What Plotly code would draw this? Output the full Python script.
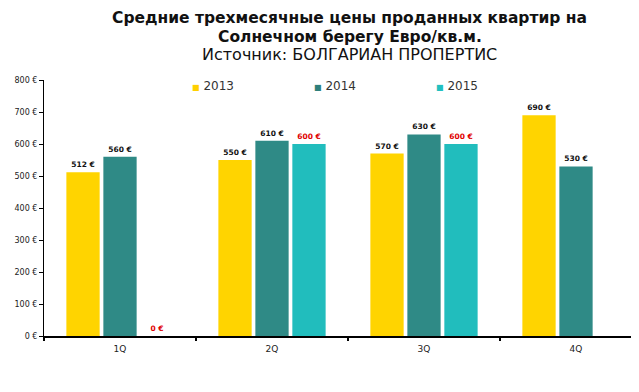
import plotly.graph_objects as go

quarters = ["1Q", "2Q", "3Q", "4Q"]
years = ["2013", "2014", "2015"]
v2013 = [512, 550, 570, 690]
v2014 = [560, 610, 630, 530]
v2015 = [0, 600, 600, None]
y_ticks = [0, 100, 200, 300, 400, 500, 600, 700, 800]
y_tick_labels = [f"{t} €" for t in y_ticks]

series = [v2013, v2014, v2015]
colors = ["#FFD400", "#2F8A86", "#21BDBD"]
legend_colors = ["#FFD000", "#2E7F7B", "#22C0C0"]
label_colors = ["#111111", "#111111", "#E00000"]

fig = go.Figure()
for name, vals, c, lc in zip(years, series, colors, label_colors):
    fig.add_trace(go.Bar(
        x=quarters, y=vals, name=name, marker=dict(color=c, line=dict(width=0)),
        text=[("" if v is None else f"<b>{v} €</b>") for v in vals],
        texttemplate="%{text}", textposition="outside",
        textfont=dict(family="DejaVu Sans", size=7.5, color=lc),
        cliponaxis=False, showlegend=False,
    ))

# title lines
title_font = dict(family="DejaVu Sans", color="#111111")
fig.add_annotation(text="<b>Средние трехмесячные цены проданных квартир на</b>",
                   x=0.514, y=1.242, xref="paper", yref="paper", showarrow=False, borderpad=0,
                   xanchor="center", yanchor="middle", font=dict(size=15.5, **title_font))
fig.add_annotation(text="<b>Солнечном берегу Евро/кв.м.</b>",
                   x=0.514, y=1.168, xref="paper", yref="paper", showarrow=False, borderpad=0,
                   xanchor="center", yanchor="middle", font=dict(size=15.5, **title_font))
fig.add_annotation(text="Источник: БОЛГАРИАН ПРОПЕРТИС",
                   x=0.514, y=1.098, xref="paper", yref="paper", showarrow=False, borderpad=0,
                   xanchor="center", yanchor="middle", font=dict(size=16, **title_font))

# legend
legend_x = [0.245, 0.450, 0.655]
for name, c, lx in zip(years, legend_colors, legend_x):
    fig.add_annotation(
        text=f"<span style='color:{c};font-size:8px'>■</span> {name}",
        x=lx, y=0.977, xref="paper", yref="paper", showarrow=False,
        xanchor="left", yanchor="middle",
        font=dict(family="DejaVu Sans", size=12, color="#333333"),
    )

fig.update_layout(
    width=631, height=384,
    margin=dict(l=36, r=0, t=72, b=56),
    paper_bgcolor="white", plot_bgcolor="white",
    barmode="group", bargap=0.27, bargroupgap=0.1,
    showlegend=False,
    xaxis=dict(
        range=[-0.5, -0.5 + 595 / 152], tickson="boundaries",
        ticks="outside", ticklen=3, tickwidth=2, tickcolor="black",
        showline=True, linecolor="black", linewidth=2,
        tickfont=dict(family="DejaVu Sans", size=9, color="#222222"),
        ticklabelstandoff=3,
        showgrid=False,
    ),
    yaxis=dict(
        range=[0, 800], tickvals=y_ticks, ticktext=y_tick_labels,
        ticks="outside", ticklen=4, tickcolor="black",
        showline=True, linecolor="black", linewidth=1,
        tickfont=dict(family="DejaVu Sans", size=8, color="#222222"),
        showgrid=False, zeroline=False,
    ),
)

fig.write_html("out.html")
